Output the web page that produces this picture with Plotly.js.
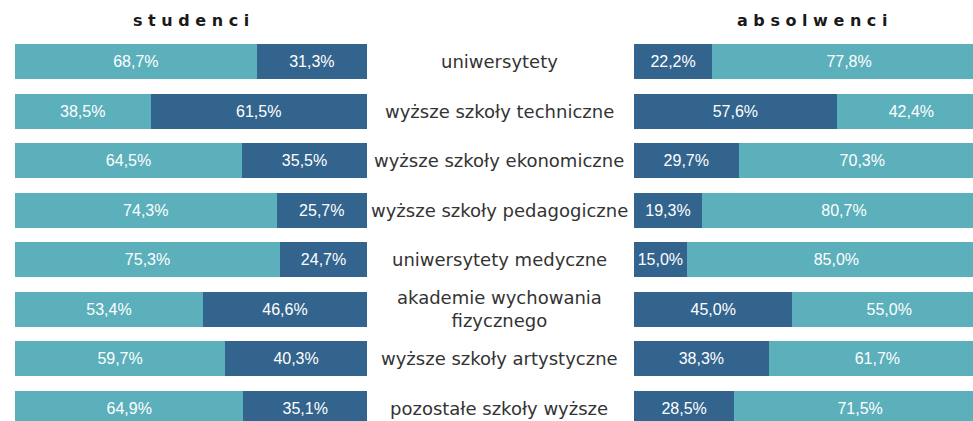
<!DOCTYPE html>
<html>
<head>
<meta charset="utf-8">
<script src="https://cdn.plot.ly/plotly-3.0.1.min.js"></script>
<style>
html,body{margin:0;padding:0;overflow:hidden;background:#fff;}
#chart{width:990px;height:440px;}
</style>
</head>
<body>
<div id="chart"></div>
<script>
const categories = [
  "uniwersytety",
  "wyższe szkoły techniczne",
  "wyższe szkoły ekonomiczne",
  "wyższe szkoły pedagogiczne",
  "uniwersytety medyczne",
  "akademie wychowania<br>fizycznego",
  "wyższe szkoły artystyczne",
  "pozostałe szkoły wyższe"
];
const studenciKobiety   = [68.7, 38.5, 64.5, 74.3, 75.3, 53.4, 59.7, 64.9];
const studenciMezczyzni = [31.3, 61.5, 35.5, 25.7, 24.7, 46.6, 40.3, 35.1];
const absolwenciMezczyzni = [22.2, 57.6, 29.7, 19.3, 15.0, 45.0, 38.3, 28.5];
const absolwenciKobiety   = [77.8, 42.4, 70.3, 80.7, 85.0, 55.0, 61.7, 71.5];
const titles = ["s t u d e n c i", "a b s o l w e n c i"];

const LIGHT = "#5BB0BC";
const DARK = "#32648E";
const W = 990, H = 440;
const ids = categories.map((c, i) => "c" + i);
const fmt = a => a.map(v => v.toFixed(1).replace(".", ",") + "%");

function bar(vals, color, xa) {
  return {
    type: "bar", orientation: "h", x: vals, y: ids, xaxis: xa, yaxis: "y",
    marker: {color: color, line: {width: 0}},
    text: fmt(vals), textposition: "inside", insidetextanchor: "middle",
    textfont: {family: "Liberation Sans, Arial, sans-serif", size: 16, color: "#ffffff"},
    hoverinfo: "none", showlegend: false
  };
}

const data = [
  bar(studenciKobiety, LIGHT, "x"),
  bar(studenciMezczyzni, DARK, "x"),
  bar(absolwenciMezczyzni, DARK, "x2"),
  bar(absolwenciKobiety, LIGHT, "x2")
];

const annotations = categories.map((c, i) => ({
  xref: "paper", yref: "y", x: 499 / W, y: ids[i], text: c,
  showarrow: false, xanchor: "center", yanchor: "middle", align: "center",
  font: {family: "DejaVu Sans, sans-serif", size: 18, color: "#333333"}
}));
const titleFont = {family: "DejaVu Sans, sans-serif", size: 16, color: "#1a1a1a", weight: "bold"};
annotations.push({xref: "paper", yref: "paper", x: 191 / W, y: 1, yshift: 17, text: "<b>" + titles[0] + "</b>",
  showarrow: false, xanchor: "center", yanchor: "middle", font: titleFont});
annotations.push({xref: "paper", yref: "paper", x: 812 / W, y: 1, yshift: 17, text: "<b>" + titles[1] + "</b>",
  showarrow: false, xanchor: "center", yanchor: "middle", font: titleFont});

const layout = {
  width: W, height: H,
  margin: {l: 0, r: 0, t: 36.7, b: 6.7},
  paper_bgcolor: "#ffffff", plot_bgcolor: "#ffffff",
  barmode: "stack", bargap: 0.294,
  xaxis: {domain: [15 / W, 367 / W], range: [0, 100], visible: false, fixedrange: true},
  xaxis2: {domain: [634 / W, 986 / W], range: [0, 100], visible: false, fixedrange: true},
  yaxis: {type: "category", categoryorder: "array", categoryarray: ids, autorange: "reversed",
          visible: false, fixedrange: true},
  annotations: annotations
};

Plotly.newPlot("chart", data, layout, {displayModeBar: false, staticPlot: true});
</script>
</body>
</html>
